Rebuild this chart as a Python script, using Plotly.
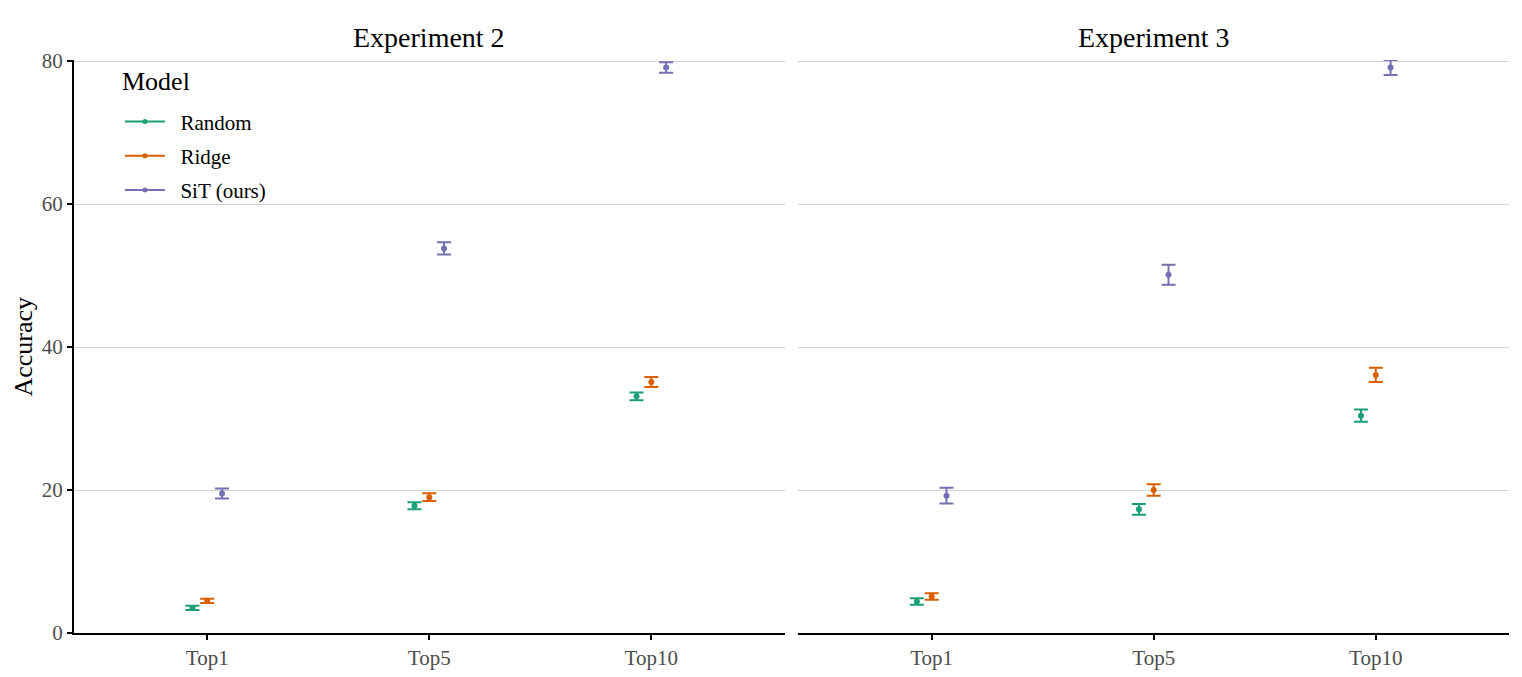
import plotly.graph_objects as go
from plotly.subplots import make_subplots

# ---- data ----
metrics = ["Top1", "Top5", "Top10"]
models = ["Random", "Ridge", "SiT (ours)"]
experiments = ["Experiment 2", "Experiment 3"]
model_colors = ["#1B9E77", "#D95F02", "#7570B3"]

exp2_random_mean = [3.5, 17.8, 33.1]
exp2_random_err = [0.3, 0.5, 0.55]
exp2_ridge_mean = [4.5, 19.0, 35.1]
exp2_ridge_err = [0.3, 0.55, 0.7]
exp2_sit_mean = [19.5, 53.8, 79.1]
exp2_sit_err = [0.7, 0.85, 0.75]

exp3_random_mean = [4.4, 17.3, 30.4]
exp3_random_err = [0.45, 0.75, 0.85]
exp3_ridge_mean = [5.1, 20.0, 36.1]
exp3_ridge_err = [0.45, 0.8, 1.0]
exp3_sit_mean = [19.2, 50.1, 79.1]
exp3_sit_err = [1.1, 1.4, 1.05]

y_ticks = [0, 20, 40, 60, 80]

panels = [
    [(exp2_random_mean, exp2_random_err), (exp2_ridge_mean, exp2_ridge_err), (exp2_sit_mean, exp2_sit_err)],
    [(exp3_random_mean, exp3_random_err), (exp3_ridge_mean, exp3_ridge_err), (exp3_sit_mean, exp3_sit_err)],
]

FONT = "Liberation Serif"

fig = make_subplots(rows=1, cols=2, shared_yaxes=True, horizontal_spacing=0.0097)

for p, panel in enumerate(panels):
    for m, (mean, err) in enumerate(panel):
        fig.add_trace(
            go.Scatter(
                x=metrics, y=mean, mode="markers",
                name=models[m], offsetgroup=models[m],
                marker=dict(color=model_colors[m], size=6),
                error_y=dict(type="data", array=err, visible=True,
                             color=model_colors[m], thickness=2, width=7),
                showlegend=False, cliponaxis=False,
            ),
            row=1, col=p + 1,
        )

# legend keys (line + dot like the reference)
for m in range(len(models)):
    fig.add_trace(
        go.Scatter(
            x=[None], y=[None], mode="lines+markers",
            name="\u00a0\u00a0" + models[m],
            line=dict(color=model_colors[m], width=2),
            marker=dict(color=model_colors[m], size=5),
            legendgroup=models[m], showlegend=True,
        ),
        row=1, col=1,
    )

fig.update_layout(
    width=1522, height=677,
    margin=dict(l=66, r=21, t=52, b=52),
    plot_bgcolor="white", paper_bgcolor="white",
    font=dict(family=FONT, color="black"),
    scattermode="group", scattergap=0.8,
    legend=dict(
        font=dict(size=21, family=FONT),
        x=0.032, y=0.928, xanchor="left", yanchor="top",
        bgcolor="rgba(255,255,255,0)", tracegroupgap=4,
        itemwidth=40,
    ),
)

for c in (1, 2):
    fig.update_xaxes(
        type="category", categoryorder="array", categoryarray=metrics,
        range=[-0.6, 2.6],
        showline=True, linecolor="black", linewidth=2,
        ticks="outside", ticklen=5, tickwidth=1.5, tickcolor="black",
        tickfont=dict(size=21, family=FONT, color="#4d4d4d"),
        showgrid=False, zeroline=False,
        row=1, col=c,
    )

fig.update_yaxes(
    range=[0, 80.15], tickvals=y_ticks,
    showgrid=True, gridcolor="#d3d3d3", gridwidth=1.4, zeroline=False,
)
fig.update_yaxes(
    showline=True, linecolor="black", linewidth=2,
    ticks="outside", ticklen=5, tickwidth=1.5, tickcolor="black",
    tickfont=dict(size=21, family=FONT, color="#4d4d4d"),
    row=1, col=1,
)
fig.update_yaxes(showline=False, ticks="", showticklabels=False, row=1, col=2)

# panel titles
doms = [fig.layout.xaxis.domain, fig.layout.xaxis2.domain]
for i, d in enumerate(doms):
    fig.add_annotation(
        text=experiments[i], xref="paper", yref="paper",
        x=(d[0] + d[1]) / 2, y=1, xanchor="center", yanchor="middle",
        yshift=23, showarrow=False, font=dict(size=28, family=FONT, color="black"),
    )

# legend title
fig.add_annotation(
    text="Model", xref="paper", yref="paper", x=0.032, y=0.962,
    xanchor="left", yanchor="middle", showarrow=False,
    font=dict(size=26, family=FONT, color="black"),
)

fig.add_annotation(
    text="Accuracy", xref="paper", yref="paper", x=-0.0355, y=0.5,
    xanchor="center", yanchor="middle", textangle=-90, showarrow=False,
    font=dict(size=26, family=FONT, color="black"),
)

fig.write_html("out.html")
